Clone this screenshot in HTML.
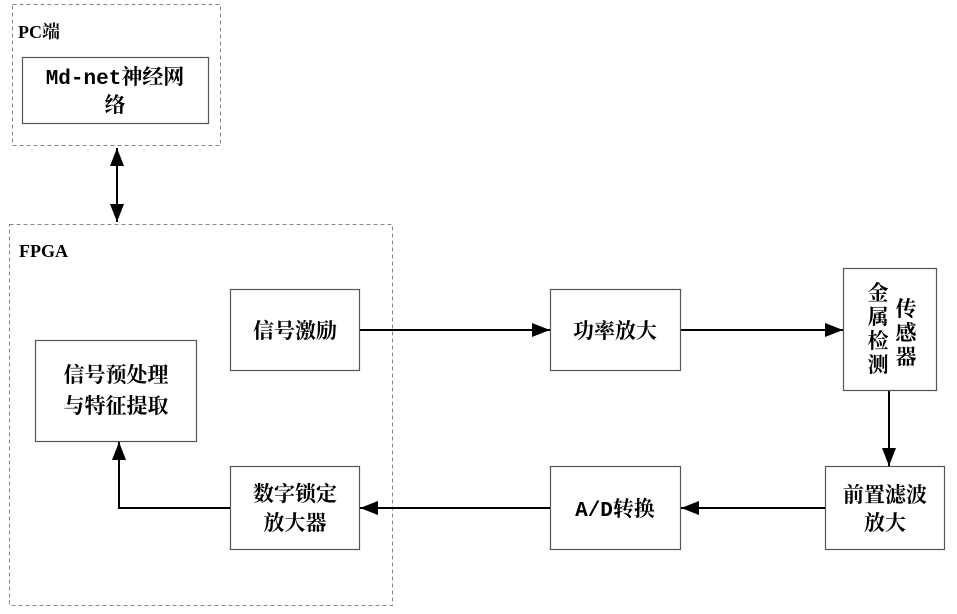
<!DOCTYPE html>
<html><head><meta charset="utf-8"><style>
html,body{margin:0;padding:0;background:#fff;}
svg text{font-family:"Liberation Serif","Noto Serif CJK SC",serif;font-weight:bold;fill:#000;}
</style></head><body>
<svg width="957" height="609" viewBox="0 0 957 609" xmlns="http://www.w3.org/2000/svg">
<defs>
<marker id="a" markerWidth="10" markerHeight="10" refX="9" refY="5" orient="auto-start-reverse" markerUnits="userSpaceOnUse" viewBox="0 0 10 10">
<path d="M0,0 L10,5 L0,10 z" fill="#000"/></marker>
<marker id="b" markerWidth="18" markerHeight="14" refX="18" refY="7" orient="auto-start-reverse" markerUnits="userSpaceOnUse" viewBox="0 0 18 14">
<path d="M0,0 L18,7 L0,14 z" fill="#000"/></marker>
</defs>
<g fill="none" stroke="#888" stroke-width="1" stroke-dasharray="4,3">
<rect x="12.5" y="4.5" width="208" height="141"/>
<rect x="9.5" y="224.5" width="383" height="381"/>
</g>
<text x="18" y="38" font-size="18">PC端</text>
<text x="19" y="257" font-size="18">FPGA</text>
<g fill="#fff" stroke="#555" stroke-width="1.2">
<rect x="22.5" y="57.5" width="186" height="66"/>
<rect x="230.5" y="289.5" width="129" height="81"/>
<rect x="550.5" y="289.5" width="130" height="81"/>
<rect x="843.5" y="268.5" width="93" height="122"/>
<rect x="825.5" y="466.5" width="119" height="83"/>
<rect x="550.5" y="466.5" width="130" height="83"/>
<rect x="230.5" y="466.5" width="129" height="83"/>
<rect x="35.5" y="340.5" width="161" height="101"/>
</g>
<g font-size="21" text-anchor="middle">
<text x="115" y="84"><tspan font-family="Liberation Mono,monospace">Md-net</tspan>神经网</text>
<text x="115" y="112">络</text>
<text x="295" y="338">信号激励</text>
<text x="615" y="338">功率放大</text>
<text x="878" y="300">金</text><text x="878" y="324">属</text><text x="878" y="348">检</text><text x="878" y="372">测</text>
<text x="906" y="316">传</text><text x="906" y="340">感</text><text x="906" y="364">器</text>
<text x="885" y="502">前置滤波</text>
<text x="885" y="530">放大</text>
<text x="615" y="516"><tspan font-family="Liberation Mono,monospace">A/D</tspan>转换</text>
<text x="295" y="501">数字锁定</text>
<text x="295" y="530">放大器</text>
<text x="116" y="382">信号预处理</text>
<text x="116" y="413">与特征提取</text>
</g>
<g stroke="#000" stroke-width="2" fill="none">
<line x1="117" y1="148" x2="117" y2="222" marker-start="url(#b)" marker-end="url(#b)"/>
<line x1="360" y1="330" x2="550" y2="330" marker-end="url(#b)"/>
<line x1="681" y1="330" x2="843" y2="330" marker-end="url(#b)"/>
<line x1="889" y1="391" x2="889" y2="466" marker-end="url(#b)"/>
<line x1="825" y1="508" x2="681" y2="508" marker-end="url(#b)"/>
<line x1="550" y1="508" x2="360" y2="508" marker-end="url(#b)"/>
<polyline points="230,508 119,508 119,442" marker-end="url(#b)"/>
</g>
</svg>
</body></html>
